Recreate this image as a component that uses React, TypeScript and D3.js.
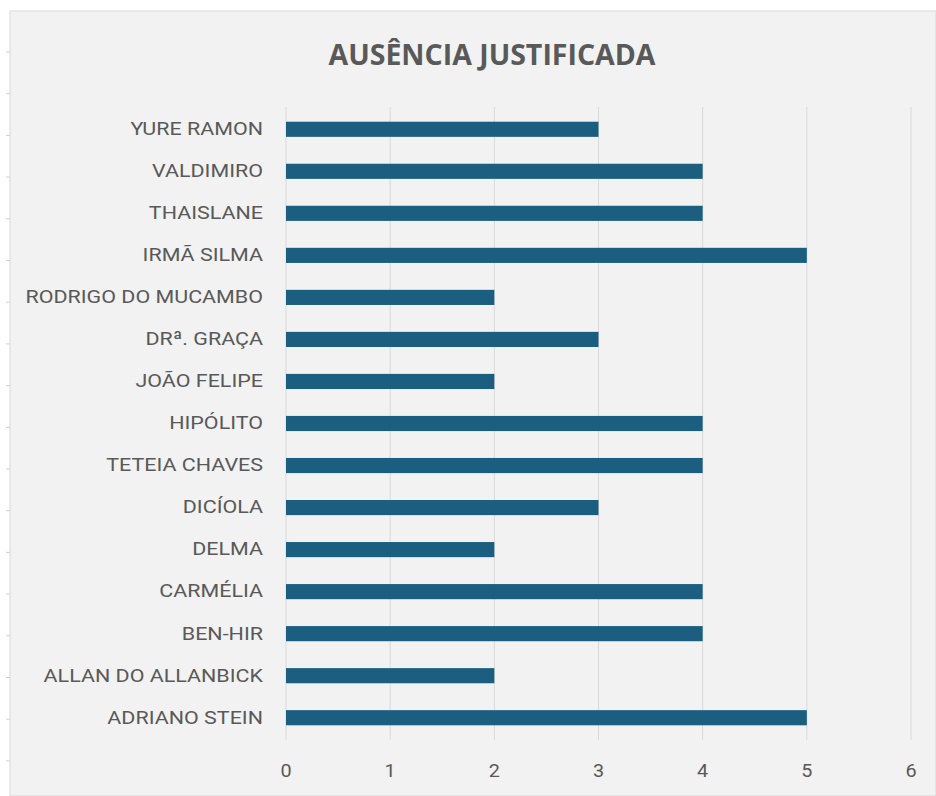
import * as d3 from "d3";
import React from "react";

const names = [
  "YURE RAMON",
  "VALDIMIRO",
  "THAISLANE",
  "IRMÃ SILMA",
  "RODRIGO DO MUCAMBO",
  "DRª. GRAÇA",
  "JOÃO FELIPE",
  "HIPÓLITO",
  "TETEIA CHAVES",
  "DICÍOLA",
  "DELMA",
  "CARMÉLIA",
  "BEN-HIR",
  "ALLAN DO ALLANBICK",
  "ADRIANO STEIN",
];
const faltas = [3, 4, 4, 5, 2, 3, 2, 4, 4, 3, 2, 4, 4, 2, 5];
const xTicks = [0, 1, 2, 3, 4, 5, 6];
const title = "AUSÊNCIA JUSTIFICADA";

const W = 936;
const H = 796;
const plot = { left: 286, right: 911, top: 107, bottom: 740 };
const txt = "#595959";
const font = "Roboto, 'Liberation Sans', sans-serif";

const App = () => {
  const x = d3.scaleLinear().domain([0, 6]).range([plot.left, plot.right]);
  const y = d3
    .scaleBand<string>()
    .domain(names)
    .range([plot.top, plot.bottom])
    .paddingInner(0.64)
    .paddingOuter(0.35);

  // little marks down the left frame edge (sheet rows)
  const rowMarks = d3.range(52, H, 41.7);

  return (
    <svg width={W} height={H} style={{ display: "block", position: "absolute", left: 0, top: 0 }}>
      <rect x={0} y={0} width={W} height={H} fill="#ffffff" />
      <rect x={10} y={11} width={W - 10} height={H - 11} fill="#f2f2f2" stroke="#d9d9d9" strokeWidth={1} />
      {rowMarks.map((m) => (
        <line key={m} x1={6} x2={10} y1={m} y2={m} stroke="#d0d0d0" />
      ))}

      <text
        x={492}
        y={65}
        textAnchor="middle"
        fontFamily="'Open Sans', sans-serif"
        fontWeight={700}
        fontSize={28.5}
        fill={txt}
      >
        {title}
      </text>

      {xTicks.map((t) => (
        <g key={t}>
          <line x1={x(t)} x2={x(t)} y1={plot.top} y2={plot.bottom} stroke="#d9d9d9" strokeWidth={1} />
          <text
            x={x(t)}
            y={777}
            textAnchor="middle"
            fontFamily={font}
            fontSize={18}
            fill={txt}
            transform={`translate(${x(t)},0) scale(1.1,1) translate(${-x(t)},0)`}
          >
            {t}
          </text>
        </g>
      ))}

      {names.map((n, i) => (
        <g key={n}>
          <rect
            x={x(0)}
            y={y(n)}
            width={x(faltas[i]) - x(0)}
            height={y.bandwidth()}
            fill="#1b5e80"
          />
          <text
            transform={`translate(263,${(y(n) ?? 0) + y.bandwidth() / 2 - 1}) scale(1.13,1)`}
            dy="0.36em"
            textAnchor="end"
            fontFamily={font}
            fontSize={19}
            fill={txt}
          >
            {n}
          </text>
        </g>
      ))}
    </svg>
  );
};

export default App;
